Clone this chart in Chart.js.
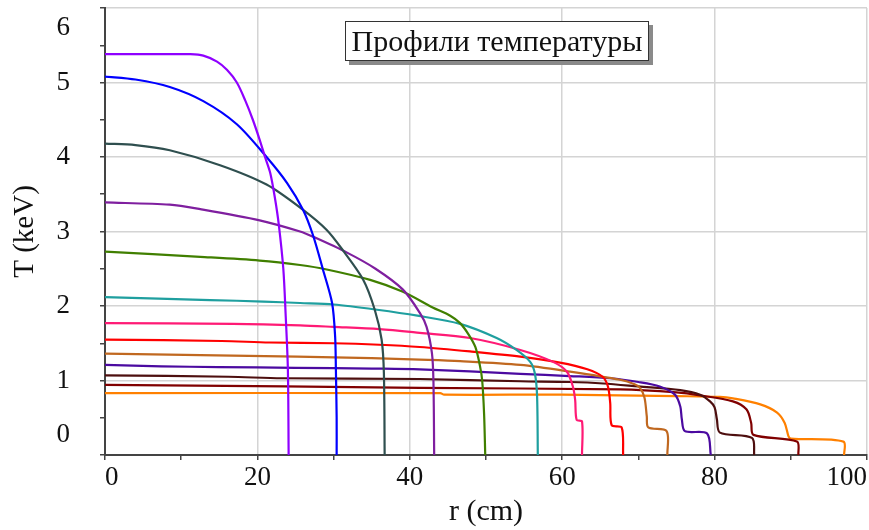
<!DOCTYPE html>
<html>
<head>
<meta charset="utf-8">
<script src="https://cdn.jsdelivr.net/npm/chart.js@4"></script>
<style>
    html, body { margin: 0; padding: 0; background: #fff; }
    #wrap { position: relative; width: 869px; height: 530px; }
    #title {
        position: absolute; left: 345px; top: 21px; width: 304px; height: 40px;
        box-sizing: border-box; border: 1px solid #333; background: #fff;
        box-shadow: 4px 4px 0 #8a8a8a;
        font: 30px "Liberation Serif", serif; line-height: 38px;
        text-align: center; color: #111; white-space: nowrap;
    }
</style>
</head>
<body>
<div id="wrap">
    <canvas id="chart" width="869" height="530"></canvas>
    <div id="title">Профили температуры</div>
</div>
<script>
// Temperature profiles T(r), pairs of [r (cm), T (keV)]
const violet = [[0,5.38],[8.5,5.38],[11.2,5.38],[12.9,5.36],[14.7,5.28],[16,5.17],[17.3,5.0],[18.4,4.76],[19.4,4.5],[20.3,4.23],[21,4.0],[21.7,3.78],[22.3,3.45],[22.8,3.1],[23.4,2.5],[23.7,1.9],[24,1.15],[24.1,0]];
const blue = [[0,5.08],[4,5.04],[8.5,4.94],[12.9,4.75],[17.3,4.44],[21.2,4.0],[23.9,3.65],[26,3.29],[27.3,2.95],[28.6,2.49],[29.8,2.04],[30.2,1.59],[30.3,1.15],[30.4,0.5],[30.4,0]];
const slate = [[0,4.18],[4,4.16],[8.5,4.09],[15.1,3.89],[21.2,3.63],[26,3.29],[29.1,3.02],[31.2,2.75],[33.9,2.35],[35.4,1.95],[36.3,1.55],[36.6,1.1],[36.7,0]];
const purple = [[0,3.39],[8.5,3.36],[12.5,3.3],[20.3,3.15],[25.6,3.0],[27.3,2.93],[31.7,2.72],[35.5,2.5],[39.1,2.22],[41.3,1.91],[42.2,1.72],[42.9,1.37],[43.1,1.0],[43.2,0]];
const green = [[0,2.73],[12.5,2.66],[20.3,2.61],[25.6,2.55],[29.1,2.49],[34.8,2.35],[39.1,2.19],[43,1.98],[45.3,1.87],[46.6,1.77],[47.7,1.62],[48.6,1.45],[49.2,1.2],[49.5,1.0],[49.75,0.55],[49.9,0]];
const teal = [[0,2.12],[7,2.1],[13.8,2.08],[20.8,2.06],[25.6,2.04],[30,2.02],[35.7,1.95],[41,1.87],[46.6,1.76],[51.4,1.57],[54,1.41],[55.8,1.25],[56.4,1.1],[56.7,0.8],[56.8,0]];
const pink = [[0,1.77],[16.8,1.76],[25.6,1.74],[30,1.72],[36,1.69],[41.3,1.64],[47.9,1.57],[54.5,1.41],[58.8,1.25],[60.6,1.12],[61.4,0.92],[61.7,0.74],[61.9,0.47],[62.6,0.45],[62.6,0]];
const red = [[0,1.55],[15.3,1.53],[21.6,1.51],[30,1.5],[36,1.48],[41.3,1.45],[47.9,1.39],[54.5,1.32],[59.7,1.24],[63.3,1.15],[65.3,1.05],[66,0.92],[66.3,0.7],[66.5,0.4],[67.8,0.37],[68,0]];
const brown = [[0,1.36],[12.5,1.34],[25.2,1.32],[35,1.3],[41.3,1.28],[46.6,1.26],[54.5,1.21],[61,1.12],[67.6,1.01],[69.5,0.95],[70.2,0.9],[70.8,0.77],[71.1,0.52],[71.3,0.37],[73.7,0.32],[73.8,0]];
const indigo = [[0,1.21],[7.4,1.19],[14.9,1.18],[25,1.17],[35,1.16],[41.3,1.15],[54.5,1.09],[61,1.06],[66.3,1.03],[70,0.98],[72.8,0.92],[74.8,0.81],[75.5,0.65],[75.7,0.48],[76.1,0.32],[79,0.29],[79.5,0]];
const darkBrown = [[0,1.07],[16.2,1.05],[23.2,1.03],[41.3,1.02],[54.5,0.99],[61,0.98],[65.4,0.96],[70,0.92],[75.5,0.87],[78.1,0.81],[79.4,0.72],[80,0.64],[80.3,0.48],[80.7,0.3],[84.9,0.23],[85.2,0]];
const maroon = [[0,0.94],[23.6,0.92],[41.3,0.9],[67.6,0.88],[75,0.84],[78.1,0.8],[82.4,0.72],[84.2,0.61],[84.8,0.43],[85.1,0.27],[90.8,0.18],[91,0]];
const orange = [[0,0.83],[44,0.83],[44.5,0.81],[60,0.81],[75,0.79],[80.7,0.78],[82.4,0.76],[86,0.68],[88.2,0.57],[89.2,0.43],[89.7,0.25],[90,0.22],[96.9,0.18],[97,0]];

const profiles = [violet, blue, slate, purple, green, teal, pink, red, brown, indigo, darkBrown, maroon, orange];
const colors = ['#8f00ff', '#0000ff', '#2f4f4f', '#7f1f9f', '#407f00', '#1f9f9f', '#ff1a75',
                '#ff0000', '#c06820', '#4b0aa0', '#4d0f0f', '#800000', '#ff8000'];

const xTicks = { min: 0, max: 100, step: 10, labelEvery: 20 };
const yTicks = { min: 0, max: 6, step: 0.5 };

const FONT = '"Liberation Serif", "Times New Roman", serif';
const GRID = '#d4d4d4';
const AXIS = '#444';

const datasets = profiles.map((p, i) => ({
    data: p.map(([r, t]) => ({ x: r, y: t })),
    borderColor: colors[i],
    borderWidth: 2.2,
    pointRadius: 0,
    tension: 0.3,
    fill: false
}));

new Chart(document.getElementById('chart'), {
    type: 'line',
    data: { datasets: datasets },
    options: {
        responsive: false,
        animation: false,
        layout: { padding: { top: 8, right: 2, left: 0, bottom: 0 } },
        plugins: {
            legend: { display: false },
            title: { display: false },
            tooltip: { enabled: false }
        },
        scales: {
            x: {
                type: 'linear',
                min: xTicks.min,
                max: xTicks.max,
                border: { color: AXIS, width: 2 },
                grid: {
                    color: ctx => (ctx.tick && ctx.tick.value % xTicks.labelEvery === 0) ? GRID : 'rgba(0,0,0,0)',
                    tickColor: AXIS,
                    tickLength: 5,
                    lineWidth: 1.5
                },
                ticks: {
                    stepSize: xTicks.step,
                    autoSkip: false,
                    maxRotation: 0,
                    align: 'inner',
                    padding: 2,
                    color: '#111',
                    font: { family: FONT, size: 27 },
                    callback: v => v % xTicks.labelEvery === 0 ? String(v) : ''
                },
                title: {
                    display: true,
                    text: 'r (cm)',
                    color: '#111',
                    font: { family: FONT, size: 30 },
                    padding: { top: 0, bottom: 0 }
                },
                afterFit: s => { s.height = 75; s.paddingLeft = 0; s.paddingRight = 0; }
            },
            y: {
                min: yTicks.min,
                max: yTicks.max,
                border: { color: AXIS, width: 2 },
                grid: {
                    color: ctx => (ctx.tick && Number.isInteger(ctx.tick.value)) ? GRID : 'rgba(0,0,0,0)',
                    tickColor: AXIS,
                    tickLength: 5,
                    lineWidth: 1.5
                },
                ticks: {
                    stepSize: yTicks.step,
                    autoSkip: false,
                    padding: 30,
                    color: '#111',
                    font: { family: FONT, size: 27, lineHeight: 1.5 },
                    // edge labels are pushed inside the plot, like the original
                    callback: v => {
                        if (v === yTicks.max) return ['', String(v)];
                        if (v === yTicks.min) return [String(v), ''];
                        return Number.isInteger(v) ? String(v) : '';
                    }
                },
                title: {
                    display: true,
                    text: 'T (keV)',
                    color: '#111',
                    font: { family: FONT, size: 29 },
                    padding: { top: 8, bottom: 0 }
                },
                afterFit: s => { s.width = 105; s.paddingTop = 0; s.paddingBottom = 0; }
            }
        }
    }
});
</script>
</body>
</html>
